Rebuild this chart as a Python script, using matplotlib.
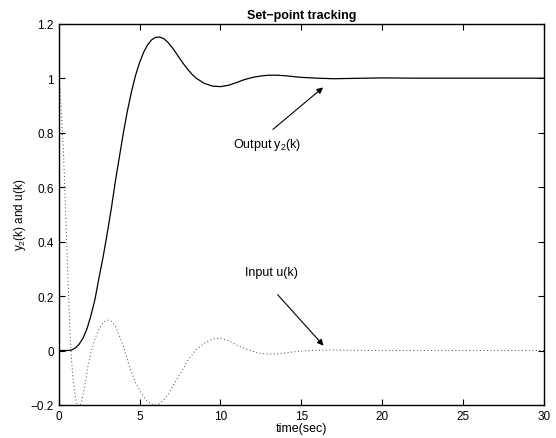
import matplotlib.pyplot as plt

plt.rcParams['font.family'] = ['Liberation Sans', 'DejaVu Sans']
plt.rcParams['mathtext.fontset'] = 'custom'
plt.rcParams['mathtext.rm'] = 'Liberation Sans'

# Output y2(k)
t_out = [0, 0.5, 0.75, 1.0, 1.25, 1.5, 1.75, 2.0, 2.25, 2.5, 2.75, 3.0, 3.25, 3.5,
         3.75, 4.0, 4.25, 4.5, 4.75, 5.0, 5.25, 5.5, 5.75, 6.0, 6.25, 6.5, 6.75,
         7.0, 7.25, 7.5, 7.75, 8.0, 8.25, 8.5, 9.0, 9.5, 10.0, 10.5, 11.0, 11.5,
         12.0, 12.5, 13.0, 13.5, 14.0, 14.5, 15.0, 16.0, 17.0, 18.0, 20.0, 22.0,
         30.0]
y_out = [0, 0, 0.001, 0.008, 0.022, 0.045, 0.08, 0.13, 0.19, 0.27, 0.345, 0.43,
         0.52, 0.62, 0.71, 0.8, 0.88, 0.95, 1.01, 1.057, 1.095, 1.123, 1.141,
         1.15, 1.151, 1.145, 1.132, 1.114, 1.093, 1.071, 1.05, 1.031, 1.014,
         1.0, 0.981, 0.971, 0.969, 0.974, 0.984, 0.995, 1.003, 1.008, 1.011,
         1.011, 1.009, 1.006, 1.003, 1.0, 0.998, 0.999, 1.001, 1.0, 1.0]

# Input u(k)
t_in = [0, 0.1, 0.2, 0.3, 0.4, 0.5, 0.6, 0.7, 0.8, 0.9, 1.0, 1.1, 1.2, 1.3, 1.4,
        1.6, 1.8, 2.0, 2.25, 2.5, 2.75, 3.0, 3.25, 3.5, 3.75, 4.0, 4.25, 4.5,
        4.75, 5.0, 5.25, 5.5, 5.75, 6.0, 6.25, 6.5, 6.75, 7.0, 7.5, 8.0, 8.5,
        9.0, 9.5, 10.0, 10.5, 11.0, 11.5, 12.0, 12.5, 13.0, 13.5, 14.0, 14.5,
        15.0, 16.0, 17.0, 18.0, 20.0, 30.0]
u_in = [1.0, 0.95, 0.83, 0.72, 0.55, 0.38, 0.22, 0.07, -0.04, -0.11, -0.16, -0.19,
        -0.205, -0.205, -0.19, -0.135, -0.06, -0.005, 0.045, 0.08, 0.103, 0.112,
        0.108, 0.09, 0.055, 0.015, -0.035, -0.08, -0.117, -0.145, -0.17, -0.188,
        -0.198, -0.2, -0.195, -0.18, -0.162, -0.137, -0.087, -0.035, 0.003,
        0.027, 0.042, 0.046, 0.037, 0.02, 0.008, -0.003, -0.011, -0.013, -0.012,
        -0.009, -0.005, -0.002, 0.001, 0.002, 0.001, 0.0, 0.0]

fig = plt.figure(figsize=(5.56, 4.39), dpi=100)
ax = fig.add_axes([0.1056, 0.0752, 0.8724, 0.8685])

ax.plot(t_out, y_out, color='k', lw=0.9)
ax.plot(t_in, u_in, color='0.25', lw=0.7, linestyle=(0, (1, 2.6)))

ax.set_xlim(0, 30)
ax.set_ylim(-0.2, 1.2)
ax.set_xticks([0, 5, 10, 15, 20, 25, 30])
ax.set_yticks([-0.2, 0, 0.2, 0.4, 0.6, 0.8, 1, 1.2])
ax.set_yticklabels(['\u22120.2', '0', '0.2', '0.4', '0.6', '0.8', '1', '1.2'])
ax.tick_params(direction='in', top=True, right=True, labelsize=8.5, length=4, width=0.8)
for s in ax.spines.values():
    s.set_linewidth(1.0)

ax.set_title('Set\u2212point tracking', fontsize=9, fontweight='bold', pad=4)
ax.set_xlabel('time(sec)', fontsize=9, labelpad=0)
ax.set_ylabel('y$_2$(k) and u(k)', fontsize=8.5, labelpad=2)

arrow = dict(arrowstyle='-|>', color='k', lw=0.8, mutation_scale=9, shrinkA=0, shrinkB=0)
ax.annotate('', xy=(16.35, 0.966), xytext=(13.25, 0.812), arrowprops=arrow)
ax.text(10.8, 0.757, 'Output y$_2$(k)', fontsize=9, ha='left', va='center')
ax.annotate('', xy=(16.38, 0.018), xytext=(13.54, 0.205), arrowprops=arrow)
ax.text(11.5, 0.289, 'Input u(k)', fontsize=9, ha='left', va='center')

fig.savefig('out.png', dpi=100)
